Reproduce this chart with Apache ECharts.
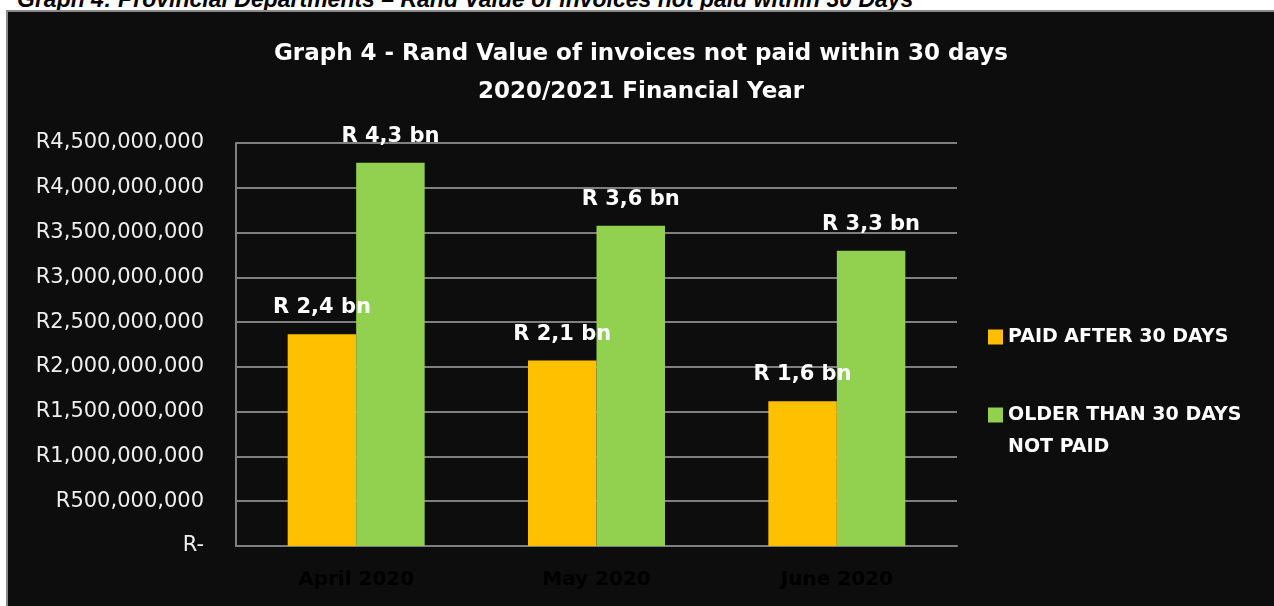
<!DOCTYPE html>
<html>
<head>
<meta charset="utf-8">
<script src="https://cdn.jsdelivr.net/npm/echarts@6/dist/echarts.min.js"></script>
<style>
  html, body { margin: 0; padding: 0; background: #ffffff; width: 1274px; height: 606px; overflow: hidden; }
  #caption {
    position: absolute; left: 17px; top: -12px; white-space: nowrap;
    font: italic bold 23px/22px "Liberation Sans Narrow", "Liberation Sans", sans-serif;
    color: #000;
  }
  #frame {
    position: absolute; left: 6px; top: 10px; width: 1280px; bottom: 0; overflow: hidden;
    border-left: 2px solid #8a8a8a; border-top: 2px solid #8a8a8a;
    background: #0d0d0d;
  }
  #chart { position: absolute; left: 0; top: 0; width: 1266px; height: 594px; }
</style>
</head>
<body>
<div id="caption">Graph 4: Provincial Departments – Rand Value of invoices not paid within 30 Days</div>
<div id="frame"><div id="chart"></div></div>
<script>
// Monthly invoice values (Rand), 2020/2021 financial year
const months = ['April 2020', 'May 2020', 'June 2020'];
const seriesNames = ['PAID AFTER 30 DAYS', 'OLDER THAN 30 DAYS NOT PAID'];
const paidAfter30 = [2365000000, 2070000000, 1617000000];
const olderNotPaid = [4280000000, 3575000000, 3296000000];
const yTicks = [0, 500000000, 1000000000, 1500000000, 2000000000, 2500000000, 3000000000, 3500000000, 4000000000, 4500000000];

const FONT = '"DejaVu Sans", sans-serif';

function randAxis(v) {
  if (v === 0) return 'R-';
  return 'R' + String(Math.round(v)).replace(/\B(?=(\d{3})+(?!\d))/g, ',');
}
function randBillions(p) {
  return 'R ' + (p.value / 1e9).toFixed(1).replace('.', ',') + ' bn';
}

const barLabel = {
  show: true, position: 'top', distance: 16,
  color: '#ffffff', fontFamily: FONT, fontWeight: 'bold', fontSize: 21,
  formatter: randBillions
};

const chart = echarts.init(document.getElementById('chart'), null, { renderer: 'canvas' });
chart.setOption({
  backgroundColor: '#0d0d0d',
  animation: false,
  title: {
    text: 'Graph 4 - Rand Value of invoices not paid within 30 days\n2020/2021 Financial Year',
    left: 'center', top: 23, padding: 0,
    textStyle: { color: '#ffffff', fontFamily: FONT, fontWeight: 'bold', fontSize: 23, lineHeight: 38 }
  },
  legend: {
    orient: 'vertical', left: 980, top: 309, padding: 0,
    itemWidth: 15, itemHeight: 15, itemGap: 14,
    icon: 'rect',
    textStyle: { color: '#ffffff', fontFamily: FONT, fontWeight: 'bold', fontSize: 19, lineHeight: 32 },
    // the long name wraps onto a second line, with the marker beside its first line
    formatter: function (name) {
      return name === seriesNames[1] ? '\n' + name.replace('30 DAYS NOT', '30 DAYS\nNOT') : name;
    },
    data: seriesNames
  },
  grid: { left: 228, right: 317, top: 131, bottom: 60, containLabel: false },
  xAxis: {
    type: 'category', data: months,
    axisLine: { show: true, lineStyle: { color: '#7f7f7f', width: 2 } },
    axisTick: { show: false },
    axisLabel: { color: '#000000', fontFamily: FONT, fontWeight: 'bold', fontSize: 20, margin: 24 }
  },
  yAxis: {
    type: 'value', min: yTicks[0], max: yTicks[yTicks.length - 1], interval: yTicks[1] - yTicks[0],
    axisLine: { show: true, lineStyle: { color: '#7f7f7f', width: 2 } },
    axisTick: { show: false },
    splitLine: { show: true, lineStyle: { color: '#7f7f7f', width: 2 } },
    axisLabel: { color: '#eeeeee', fontFamily: FONT, fontSize: 21, margin: 32, formatter: randAxis }
  },
  series: [
    {
      name: seriesNames[0], type: 'bar', data: paidAfter30,
      itemStyle: { color: '#ffc000' },
      barGap: '0%', barCategoryGap: '43%',
      label: barLabel
    },
    {
      name: seriesNames[1], type: 'bar', data: olderNotPaid,
      itemStyle: { color: '#92d050' },
      barGap: '0%', barCategoryGap: '43%',
      label: barLabel
    }
  ]
});
</script>
</body>
</html>
